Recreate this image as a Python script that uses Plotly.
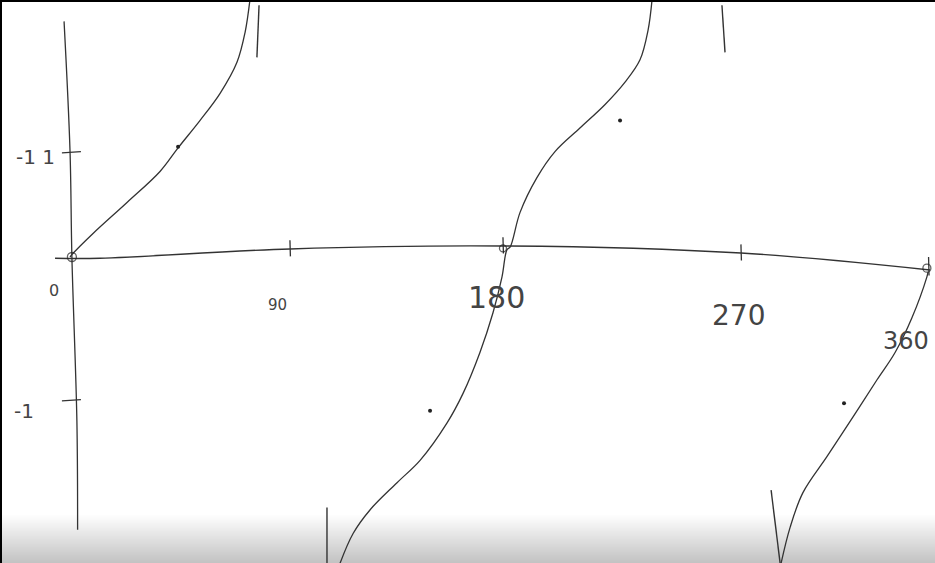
import plotly.graph_objects as go

# ---- data (degrees, tan value) ----
b1_x = [0, 1.3, 9.7, 24.0, 37.9, 45.5, 54.7, 63.2, 70.3, 73.7, 75.8]
b1_y = [0, 0.03, 0.19, 0.44, 0.69, 0.88, 1.10, 1.32, 1.57, 1.81, 2.08]

b2_x = [113.7, 119.2, 126.3, 137.7, 147.4, 158.7, 165.5, 172.6, 178.1, 181.9, 184.0,
        185.3, 189.5, 196.6, 204.2, 214.7, 225.3, 233.7, 240.0, 243.4, 245.1]
b2_y = [-2.47, -2.23, -2.04, -1.82, -1.64, -1.34, -1.10, -0.77, -0.45, -0.16, 0.06,
        0.08, 0.36, 0.64, 0.85, 1.04, 1.23, 1.41, 1.59, 1.83, 2.08]

b3_x = [299.4, 303.2, 308.6, 318.7, 329.7, 339.8, 347.4, 354.5, 360.8, 361.3]
b3_y = [-2.47, -2.18, -1.90, -1.61, -1.29, -0.99, -0.77, -0.49, -0.16, -0.12]

# hand-drawn axes
xaxis_x = [-6.3, 12.6, 92.6, 182.3, 282.5, 362.1]
xaxis_y = [-0.01, -0.01, 0.065, 0.089, 0.032, -0.105]
yaxis_x = [-2.5, 0.0, 0.8, 2.9, 3.2]
yaxis_y = [1.90, 0.86, 0.0, -1.32, -2.20]

# tick strokes
xtick_pos = [92.6, 182.3, 282.5]
xtick_base = [0.065, 0.089, 0.032]
xtick_lab = ["90", "180", "270", "360"]
xlab_x = [87.2, 179.4, 281.3, 352.0]
xlab_y = [-0.39, -0.33, -0.47, -0.68]
ylab_text = ["-1 1", "-1"]
ylab_x = [-14.7, -19.5]
ylab_y = [0.81, -1.24]
ytick_y = [0.84, -1.16]

# asymptote marks (x, y pairs)
asym = [([78.7, 79.6], [1.61, 2.03]),
        ([275.8, 274.5], [1.65, 2.03]),
        ([108.2, 108.2], [-2.02, -2.47]),
        ([295.2, 299.0], [-1.88, -2.47])]

# small marks on the curves
dots_x = [45.5, 151.6, 231.6, 325.9]
dots_y = [0.89, -1.24, 1.10, -1.18]

line_col = "#333333"
fig = go.Figure()

for xs, ys in [(b1_x, b1_y), (b2_x, b2_y), (b3_x, b3_y)]:
    fig.add_trace(go.Scatter(x=xs, y=ys, mode="lines",
                             line=dict(color=line_col, width=1.3, shape="spline", smoothing=1.0),
                             hoverinfo="skip"))

fig.add_trace(go.Scatter(x=xaxis_x, y=xaxis_y, mode="lines",
                         line=dict(color=line_col, width=1.4, shape="spline"), hoverinfo="skip"))
fig.add_trace(go.Scatter(x=yaxis_x, y=yaxis_y, mode="lines",
                         line=dict(color=line_col, width=1.3, shape="spline"), hoverinfo="skip"))

# x ticks
for xp, yc in zip(xtick_pos, xtick_base):
    fig.add_trace(go.Scatter(x=[xp, xp + 0.2], y=[yc + 0.07, yc - 0.06], mode="lines",
                             line=dict(color=line_col, width=1.3), hoverinfo="skip"))
fig.add_trace(go.Scatter(x=[361.5, 361.7], y=[0.0, -0.15], mode="lines",
                         line=dict(color=line_col, width=1.3), hoverinfo="skip"))
# y ticks
for yc in ytick_y:
    fig.add_trace(go.Scatter(x=[-3.4, 4.6], y=[yc, yc + 0.01], mode="lines",
                             line=dict(color=line_col, width=1.3), hoverinfo="skip"))

for xs, ys in asym:
    fig.add_trace(go.Scatter(x=xs, y=ys, mode="lines", line=dict(color=line_col, width=1.4),
                             hoverinfo="skip"))

fig.add_trace(go.Scatter(x=dots_x, y=dots_y, mode="markers",
                         marker=dict(color="#222", size=4), hoverinfo="skip"))
fig.add_trace(go.Scatter(x=[0.8, 182.3, 360.8], y=[0.0, 0.07, -0.09], mode="markers",
                         marker=dict(color="rgba(0,0,0,0)", size=[9, 7, 8],
                                     line=dict(color="#222", width=1.3)), hoverinfo="skip"))

font_sizes = [15, 30, 28, 24]
for t, x, y, s in zip(xtick_lab, xlab_x, xlab_y, font_sizes):
    fig.add_annotation(x=x, y=y, text=t, showarrow=False,
                       font=dict(family="DejaVu Sans ExtraLight, DejaVu Sans", size=s, color="#444"))
fig.add_annotation(x=-6.7, y=-0.27, text="0", showarrow=False,
                   font=dict(family="DejaVu Sans ExtraLight, DejaVu Sans", size=16, color="#444"))
for t, x, y in zip(ylab_text, ylab_x, ylab_y):
    fig.add_annotation(x=x, y=y, text=t, showarrow=False,
                       font=dict(family="DejaVu Sans ExtraLight, DejaVu Sans", size=20, color="#444"))

# bottom video shading (stacked translucent layers) and black frame edges
shapes = []
n = 30
top = (563 - 515) / 563
for i in range(n):
    y1 = top * (1 - i / n)
    shapes.append(dict(type="rect", xref="paper", yref="paper", x0=0, x1=1, y0=0, y1=y1,
                       fillcolor="rgba(0,0,0,0.0062)", line=dict(width=0), layer="below"))
shapes.append(dict(type="rect", xref="paper", yref="paper", x0=0, x1=1,
                   y0=1 - 2 / 563, y1=1, fillcolor="black", line=dict(width=0)))
shapes.append(dict(type="rect", xref="paper", yref="paper", x0=0, x1=2 / 935,
                   y0=0, y1=1, fillcolor="black", line=dict(width=0)))

fig.update_layout(
    width=935, height=563, margin=dict(l=0, r=0, t=0, b=0),
    paper_bgcolor="white", plot_bgcolor="rgba(0,0,0,0)", showlegend=False,
    xaxis=dict(range=[-29.474, 364.21], visible=False, fixedrange=True),
    yaxis=dict(range=[-2.4677, 2.0726], visible=False, fixedrange=True),
    shapes=shapes,
)

fig.write_html("out.html", config={"displayModeBar": False},
               post_script="document.body.style.margin='0';document.body.style.overflow='hidden';")
